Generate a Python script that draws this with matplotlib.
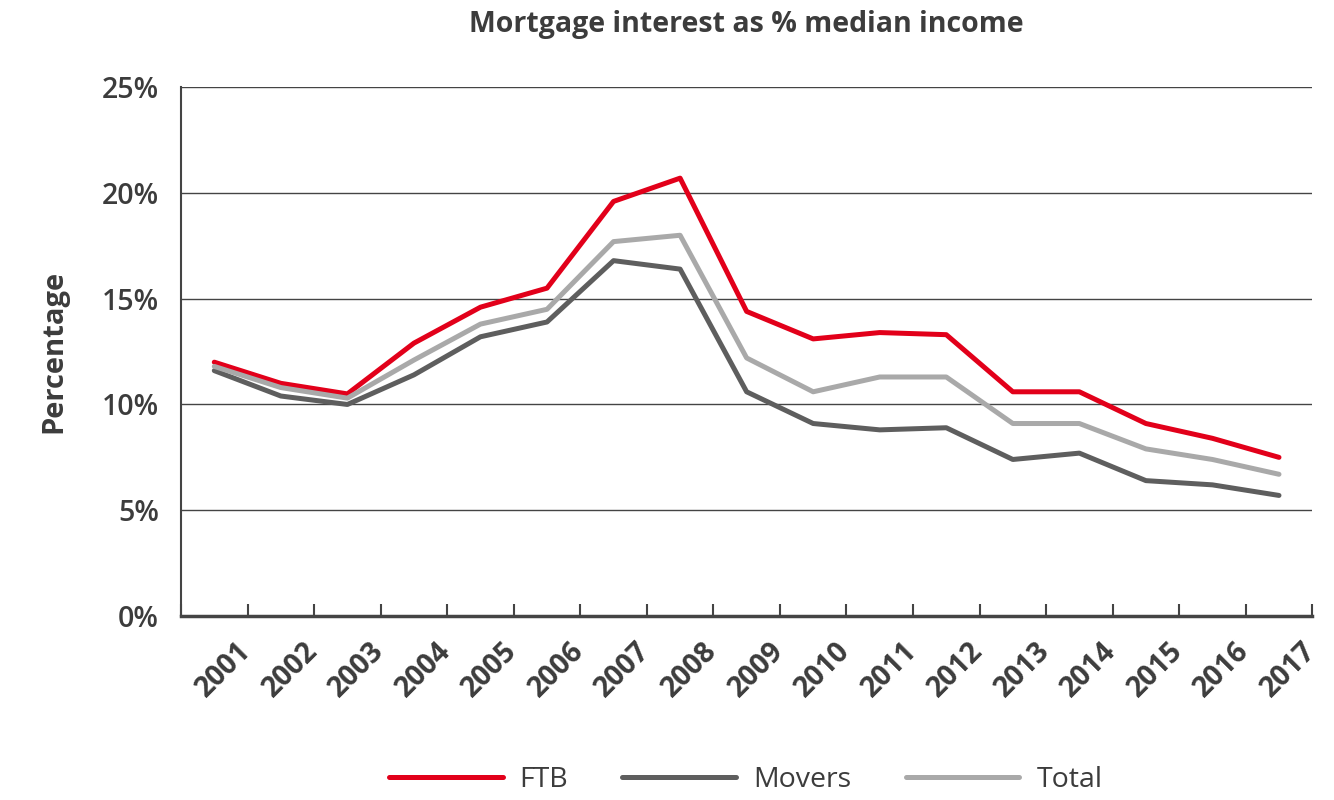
import matplotlib
matplotlib.use("Agg")
import matplotlib.pyplot as plt
import matplotlib.transforms as mtransforms
import numpy as np

years = [str(y) for y in range(2001, 2018)]
ftb = [12.0, 11.0, 10.5, 12.9, 14.6, 15.5, 19.6, 20.7, 14.4, 13.1, 13.4, 13.3, 10.6, 10.6, 9.1, 8.4, 7.5]
movers = [11.6, 10.4, 10.0, 11.4, 13.2, 13.9, 16.8, 16.4, 10.6, 9.1, 8.8, 8.9, 7.4, 7.7, 6.4, 6.2, 5.7]
total = [11.8, 10.8, 10.3, 12.1, 13.8, 14.5, 17.7, 18.0, 12.2, 10.6, 11.3, 11.3, 9.1, 9.1, 7.9, 7.4, 6.7]
yticks = [0, 5, 10, 15, 20, 25]

plt.rcParams['font.family'] = ['Open Sans', 'DejaVu Sans']
txt = '#3c3c3c'

fig = plt.figure(figsize=(13.34, 8), dpi=100)
ax = fig.add_axes([0.1357, 0.23, 0.848, 0.661])

x = np.arange(len(years))
ax.plot(x, ftb, color='#e2001a', lw=3.6, solid_capstyle='round', label='FTB', zorder=3)
ax.plot(x, movers, color='#5e5e5e', lw=3.6, solid_capstyle='round', label='Movers', zorder=3)
ax.plot(x, total, color='#a9a9a9', lw=3.6, solid_capstyle='round', label='Total', zorder=3)

ax.set_xlim(-0.5, len(years) - 0.5)
ax.set_ylim(0, 25)
ax.set_yticks(yticks)
ax.set_yticklabels([f'{v}%' for v in yticks], fontsize=20.5, fontweight='semibold', color=txt)
ax.tick_params(axis='y', length=0, pad=16)
ax.yaxis.grid(True, color='#444444', lw=1.0)
ax.set_axisbelow(True)

# category ticks at boundaries, labels at centres
ax.set_xticks(np.arange(len(years) + 1) - 0.5)
ax.set_xticklabels([])
ax.tick_params(axis='x', direction='in', length=8.5, width=1.5, color='#444444')
for i, yr in enumerate(years):
    offset = mtransforms.ScaledTranslation(16 / 72, -15 / 72, fig.dpi_scale_trans)
    ax.text(i, 0, yr, transform=mtransforms.blended_transform_factory(ax.transData, ax.transAxes) + offset,
            rotation=45, rotation_mode='anchor', ha='right', va='top',
            fontsize=20.5, fontweight='bold', color=txt)

for side in ['top', 'right']:
    ax.spines[side].set_visible(False)
ax.spines['left'].set_color('#444444')
ax.spines['left'].set_linewidth(1.5)
ax.spines['bottom'].set_color('#444444')
ax.spines['bottom'].set_linewidth(2.5)

ax.set_ylabel('Percentage', fontsize=21, fontweight='bold', color=txt, labelpad=24)
ax.set_title('Mortgage interest as % median income', fontsize=20.5, fontweight='bold', color=txt, pad=40)

fig.legend(loc='lower center', bbox_to_anchor=(0.559, -0.025), ncol=3, frameon=False,
           fontsize=20.5, handlelength=4.0, columnspacing=1.9, handletextpad=0.6,
           labelcolor=txt)

fig.savefig('out.png', dpi=100)
